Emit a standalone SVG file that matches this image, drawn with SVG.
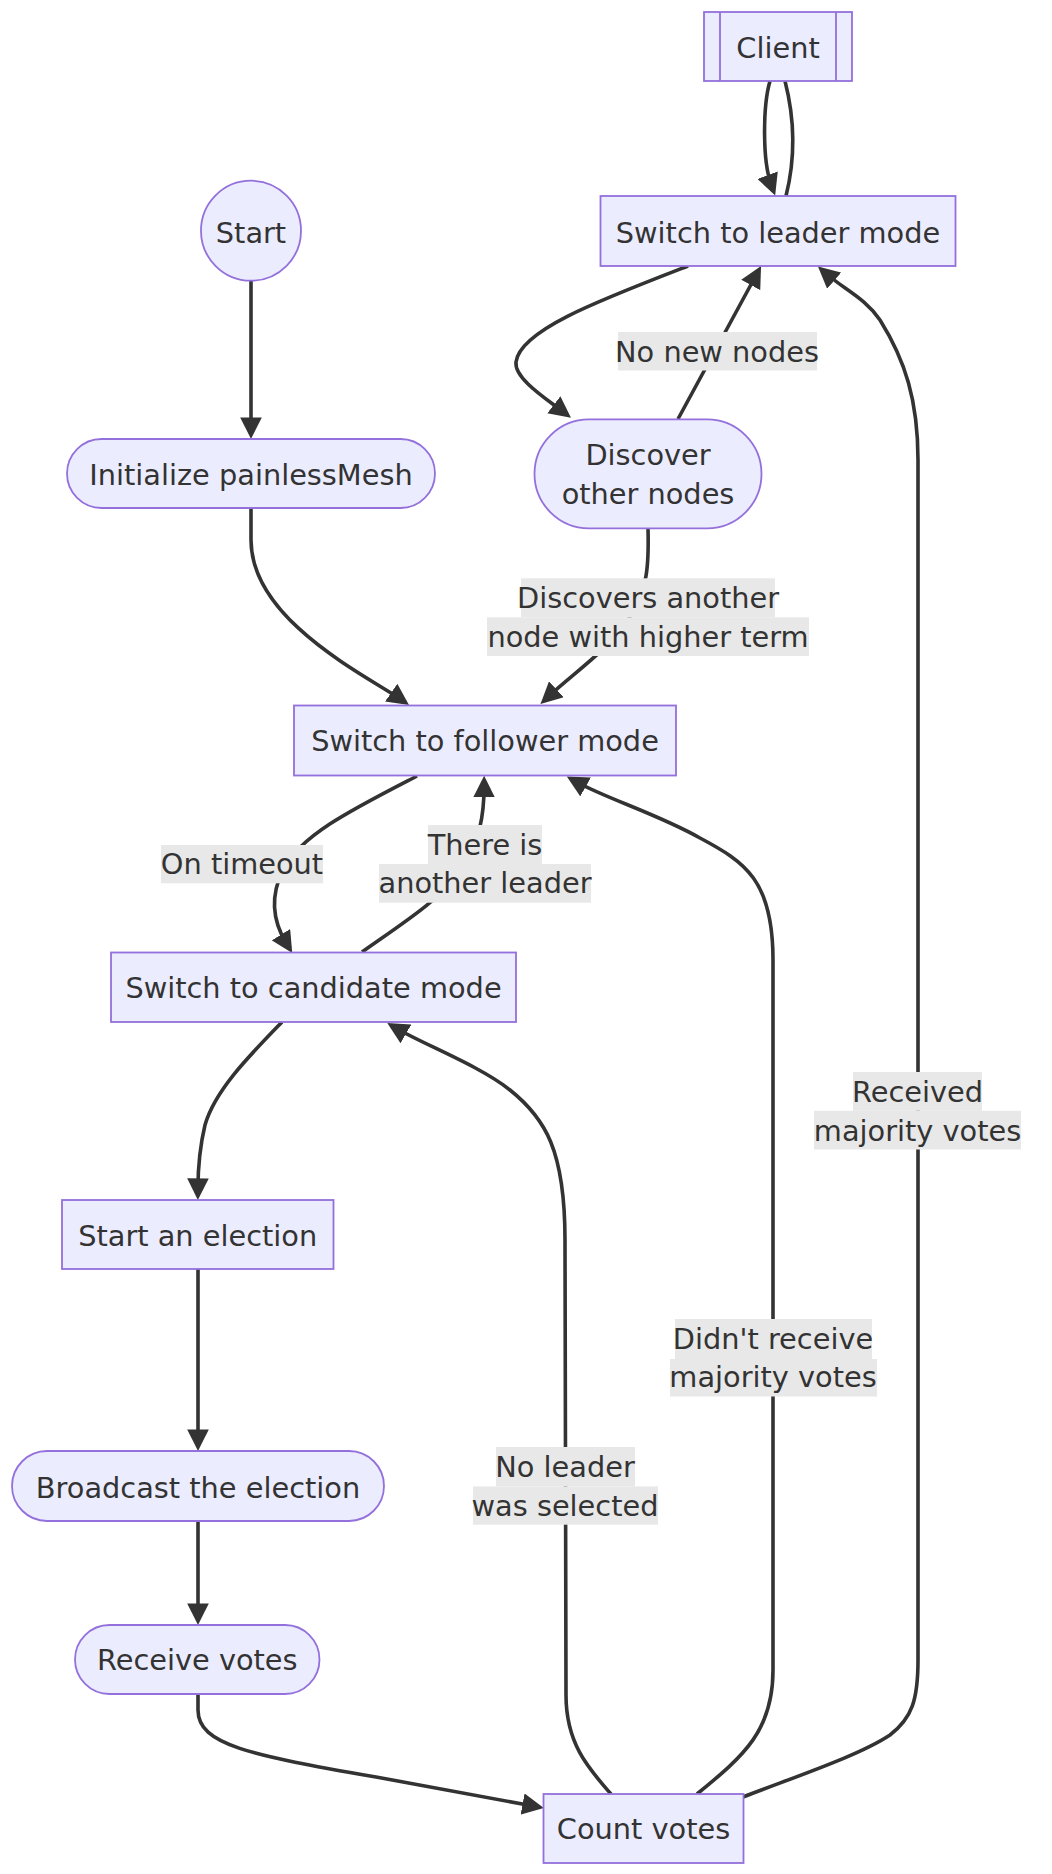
<svg xmlns="http://www.w3.org/2000/svg" width="1052" height="1874" viewBox="0 0 1052 1874">
<style>
.node rect,.node circle{fill:#ECECFF;stroke:#9370DB;stroke-width:1.8}
.node line{stroke:#9370DB;stroke-width:1.8}
text{font-family:"DejaVu Sans",Verdana,sans-serif;font-size:28.8px;fill:#333333;text-anchor:middle}
.edge{fill:none;stroke:#333333;stroke-width:3.6}
.arr{marker-end:url(#arrow)}
.lbl{fill:#e8e8e8}
</style>
<defs>
<marker id="arrow" viewBox="0 0 10 10" refX="5" refY="5" markerUnits="userSpaceOnUse" markerWidth="21.6" markerHeight="21.6" orient="auto">
<path d="M0,0 L10,5 L0,10 z" fill="#333333"/>
</marker>
</defs>
<rect width="1052" height="1874" fill="#ffffff"/>
<g id="connectors">
<path class="edge arr" d="M251,281 L251,428.2"/>
<path class="edge arr" d="M251,508 L251,540 C251,620 367,676 400.1,698.8"/>
<path class="edge arr" d="M770,81 C763,105 762,160 771.4,185.3"/>
<path class="edge" d="M785,81 C795,120 795,160 786,196"/>
<path class="edge arr" d="M688,266 C600,300 520,330 516,362 C514,378 545,398 562.4,411.3"/>
<path class="edge arr" d="M678,419 L755.9,275.5"/>
<path class="edge arr" d="M648,528 C649,565 648,590 628,620 C608,650 575,672 548.4,696.6"/>
<path class="edge arr" d="M417,776 C355,808 300,835 283,870 C268,900 275,925 286.6,943.9"/>
<path class="edge arr" d="M362,952 C400,925 440,900 462,870 C480,840 484,815 484.1,786.5"/>
<path class="edge arr" d="M282,1022 C250,1055 215,1090 205,1125 C199,1150 198,1170 197.9,1189.2"/>
<path class="edge arr" d="M198,1269 L198,1440.2"/>
<path class="edge arr" d="M198,1521 L198,1614.2"/>
<path class="edge arr" d="M198,1694 L198,1710 C198,1745 250,1755 376,1777 L533.2,1806"/>
<path class="edge arr" d="M611,1794 C590,1770 566,1745 566,1695 L565,1240 C565,1150 545,1118 510,1090 C480,1066 425,1045 396.6,1028.5"/>
<path class="edge arr" d="M697,1794 C745,1755 773,1730 773,1670 L773,960 C773,880 745,862 700,838 C660,815 605,798 576.2,781.7"/>
<path class="edge arr" d="M743,1797 C800,1775 860,1755 890,1735 C912,1718 918,1700 918,1660 L918,460 C918,400 905,360 880,320 C865,298 845,290 826.1,273.5"/>
<g id="edge-labels">
<rect class="lbl" x="618" y="332" width="199" height="38.5"/>
<text x="717" y="361.5">No new nodes</text>
<rect class="lbl" x="521" y="578.3" width="254" height="39"/>
<rect class="lbl" x="487" y="617.3" width="322" height="38.7"/>
<text x="648" y="608.3">Discovers another</text>
<text x="648" y="647.3">node with higher term</text>
<rect class="lbl" x="161" y="845" width="162" height="38.3"/>
<text x="242" y="874">On timeout</text>
<rect class="lbl" x="428" y="825" width="114" height="39"/>
<rect class="lbl" x="379" y="864" width="212" height="38.7"/>
<text x="485" y="855">There is</text>
<text x="485" y="893.3">another leader</text>
<rect class="lbl" x="853" y="1072" width="129" height="38.8"/>
<rect class="lbl" x="814" y="1110.8" width="207" height="38.7"/>
<text x="917.5" y="1102">Received</text>
<text x="917.5" y="1140.7">majority votes</text>
<rect class="lbl" x="675" y="1319" width="197" height="40"/>
<rect class="lbl" x="670" y="1359" width="207" height="37.5"/>
<text x="773" y="1348.6">Didn't receive</text>
<text x="773" y="1387.3">majority votes</text>
<rect class="lbl" x="496" y="1447" width="139" height="39.4"/>
<rect class="lbl" x="473" y="1486.4" width="185" height="38.3"/>
<text x="565" y="1476.8">No leader</text>
<text x="565" y="1515.9">was selected</text>
</g>
</g>
<g id="node-client" class="node">
<rect x="704" y="12" width="148" height="69"/>
<line x1="720" y1="12" x2="720" y2="81"/>
<line x1="836" y1="12" x2="836" y2="81"/>
<text x="778" y="58">Client</text>
</g>
<g id="node-leader" class="node">
<rect x="600.5" y="196" width="355" height="70"/>
<text x="778" y="242.5">Switch to leader mode</text>
</g>
<g id="node-start" class="node">
<circle cx="251" cy="230.7" r="50"/>
<text x="251" y="242.5">Start</text>
</g>
<g id="node-init" class="node">
<rect x="67" y="439" width="368" height="69" rx="34.5" ry="34.5"/>
<text x="251" y="485">Initialize painlessMesh</text>
</g>
<g id="node-discover" class="node">
<rect x="534.5" y="419.3" width="227" height="109" rx="54.5" ry="54.5"/>
<text x="648" y="465">Discover</text>
<text x="648" y="504">other nodes</text>
</g>
<g id="node-follower" class="node">
<rect x="294" y="705.5" width="382" height="70"/>
<text x="485" y="751">Switch to follower mode</text>
</g>
<g id="node-candidate" class="node">
<rect x="111" y="952.5" width="405" height="69.5"/>
<text x="313.5" y="998.3">Switch to candidate mode</text>
</g>
<g id="node-election" class="node">
<rect x="62" y="1200" width="271.5" height="69"/>
<text x="197.7" y="1246">Start an election</text>
</g>
<g id="node-broadcast" class="node">
<rect x="12" y="1451" width="372" height="70" rx="35" ry="35"/>
<text x="198" y="1497.7">Broadcast the election</text>
</g>
<g id="node-receive" class="node">
<rect x="75" y="1625" width="244.5" height="69" rx="34.5" ry="34.5"/>
<text x="197.3" y="1670">Receive votes</text>
</g>
<g id="node-count" class="node">
<rect x="543.5" y="1794" width="200" height="69"/>
<text x="643.5" y="1839">Count votes</text>
</g>
</svg>
